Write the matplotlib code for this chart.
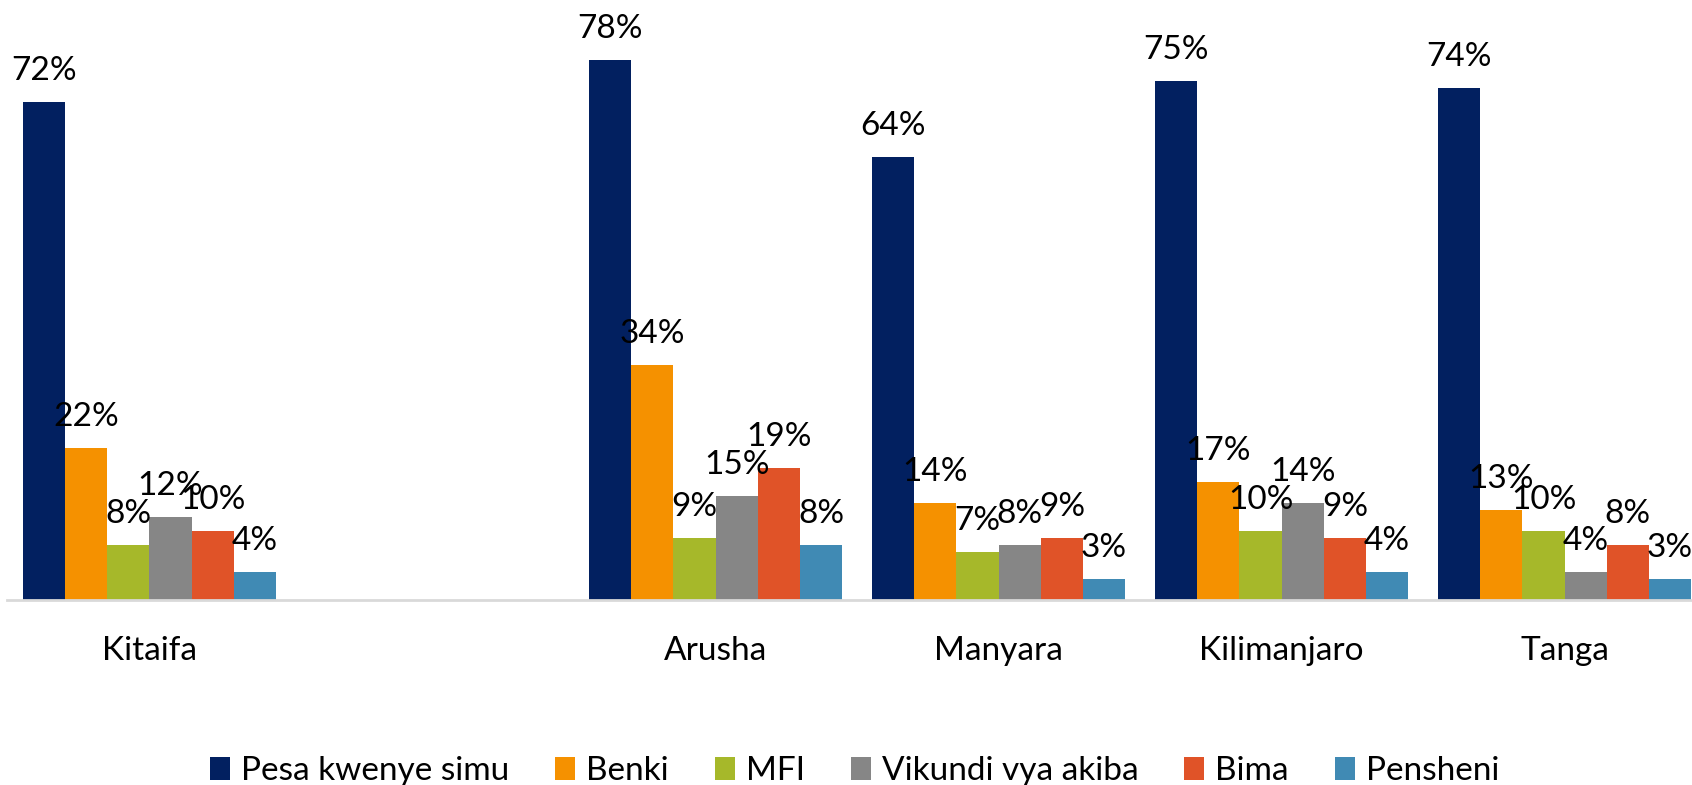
import matplotlib
matplotlib.use("Agg")
import matplotlib.pyplot as plt
import numpy as np

plt.rcParams['font.family'] = ['Lato', 'DejaVu Sans']

# regions (empty slot between Kitaifa and Arusha as in the original)
categories = ["Kitaifa", "", "Arusha", "Manyara", "Kilimanjaro", "Tanga"]
series_names = ["Pesa kwenye simu", "Benki", "MFI", "Vikundi vya akiba", "Bima", "Pensheni"]

pesa = [72, np.nan, 78, 64, 75, 74]
benki = [22, np.nan, 34, 14, 17, 13]
mfi = [8, np.nan, 9, 7, 10, 10]
vikundi = [12, np.nan, 15, 8, 14, 4]
bima = [10, np.nan, 19, 9, 9, 8]
pensheni = [4, np.nan, 8, 3, 4, 3]

colors = ["#022060", "#F59100", "#A6B82A", "#868686", "#E05328", "#408AB4"]

all_series = [pesa, benki, mfi, vikundi, bima, pensheni]

fig = plt.figure(figsize=(16.92, 7.85), dpi=100)
ax = fig.add_axes([0, 0.2357, 1, 0.7643])

x = np.arange(len(categories))
w = 0.149
n = len(all_series)

for i, (vals, name, c) in enumerate(zip(all_series, series_names, colors)):
    pos = x - w * n / 2 + w * (i + 0.5)
    ax.bar(pos, vals, w, color=c, label=name)
    for xp, v in zip(pos, vals):
        if np.isnan(v):
            continue
        ax.annotate(f"{v:.0f}%", (xp, v), xytext=(0, 16), textcoords="offset pixels",
                    ha="center", va="bottom", fontsize=24, color="black")

ax.set_xlim(-0.528, 5.45)
ax.set_ylim(0, 86.67)
ax.set_yticks([])
ax.set_xticks(x)
ax.set_xticklabels(categories, fontsize=24)
ax.tick_params(axis="x", length=0, pad=26)
for s in ["top", "right", "left"]:
    ax.spines[s].set_visible(False)
ax.spines["bottom"].set_color("#D9D9D9")
ax.spines["bottom"].set_linewidth(2)
ax.spines["bottom"].set_bounds(-0.505, 5.45)

fig.legend(loc="center", bbox_to_anchor=(0.505, 0.0175), ncol=6, frameon=False,
           fontsize=24, handlelength=0.6, handleheight=0.66, handletextpad=0.33,
           columnspacing=1.38)

fig.savefig("out.png", dpi=100)
